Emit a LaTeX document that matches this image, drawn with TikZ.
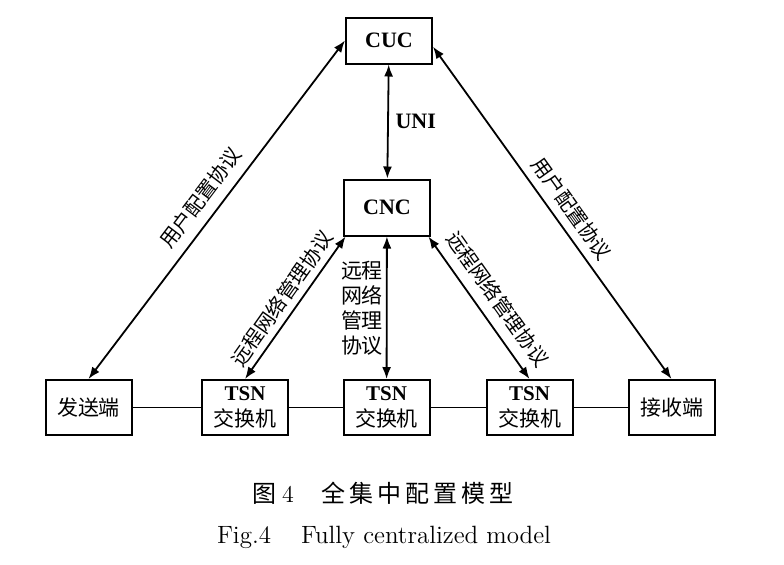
\documentclass[tikz,border=0pt]{standalone}
\usepackage{fontspec}
\newfontfamily\tnr{Liberation Serif}
\newfontfamily\cjk{Noto Sans CJK SC}
\usetikzlibrary{arrows.meta,calc}

\begin{document}
\begin{tikzpicture}[x=0.5pt, y=-0.5pt, >={Latex[length=6pt,width=4.5pt]},
  every node/.style={font=\tnr\fontsize{10.5}{13}\selectfont},
  box/.style={draw, line width=1pt, minimum width=43pt, minimum height=27.5pt, align=center, inner sep=2pt},
  link/.style={<->, line width=0.9pt},
  lbl/.style={font=\cjk\fontsize{10}{12}\selectfont, sloped, inner sep=2pt}]

  \useasboundingbox (0,0) rectangle (784,564);

  % Controllers
  \node[box, minimum height=23pt, font=\tnr\bfseries\fontsize{11}{13}\selectfont] (cuc) at (389,40.5) {CUC};
  \node[box, minimum height=28pt, font=\tnr\bfseries\fontsize{11}{13}\selectfont] (cnc) at (387,207.5) {CNC};

  % Bottom row: end stations and switches
  \node[box, font=\cjk\fontsize{10.5}{13}\selectfont] (talker) at (88.5,407.5) {发送端};
  \node[box] (sw1) at (245,407.5) {\textbf{TSN}\\{\cjk 交换机}};
  \node[box] (sw2) at (386.5,407.5) {\textbf{TSN}\\{\cjk 交换机}};
  \node[box] (sw3) at (529.5,407.5) {\textbf{TSN}\\{\cjk 交换机}};
  \node[box, font=\cjk\fontsize{10.5}{13}\selectfont] (listener) at (671.5,407.5) {接收端};
  \draw[line width=0.9pt] (talker) -- (sw1) -- (sw2) -- (sw3) -- (listener);

  % User configuration
  \draw[link] (talker.north) -- node[lbl, above=3pt, pos=0.5] {用户配置协议} (cuc.west);
  \draw[link] (cuc.-8) -- node[lbl, above=2pt, pos=0.52] {用户配置协议} (listener.north);
  \draw[link] (cuc) -- node[right=0pt, font=\tnr\bfseries\fontsize{11}{13}\selectfont] {UNI} (cnc);

  % Network management
  \draw[link] (sw1.north) -- node[lbl, above=1pt, pos=0.5] {远程网络管理协议} (cnc.-145);
  \draw[link] (cnc.-35) -- node[lbl, above=3pt, pos=0.52] {远程网络管理协议} (sw3.north);
  \draw[link] (cnc) -- (sw2);
  \node[font=\cjk\fontsize{10.5}{12.5}\selectfont, align=center] (mid) at (362,308) {远程\\网络\\管理\\协议};

  % Caption
  \node[font=\cjk\fontsize{12}{14}\selectfont] (cap1) at (383,493)
    {图\kern3pt{\rmfamily 4}\kern14pt 全\kern2pt 集\kern2pt 中\kern2pt 配\kern2pt 置\kern2pt 模\kern2pt 型};
  \node[font=\rmfamily\fontsize{12.5}{14}\selectfont] (cap2) at (384,537) {Fig.4\hspace{15pt}Fully centralized model};
\end{tikzpicture}
\end{document}
